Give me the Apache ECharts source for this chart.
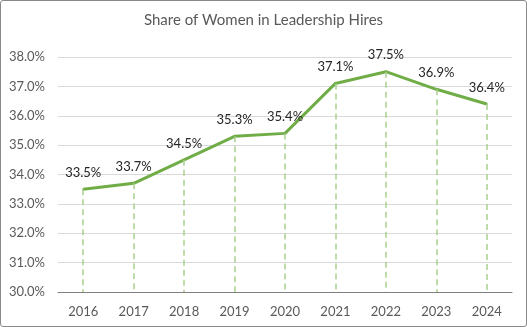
<!DOCTYPE html>
<html><head><meta charset="utf-8">
<script src="https://cdn.jsdelivr.net/npm/echarts@6/dist/echarts.min.js"></script>
<style>
html,body{margin:0;padding:0;background:#fff;}
#wrap{position:absolute;left:0;top:0;width:525px;height:325px;border:1px solid #8a8a8a;border-radius:3px;}
#c{width:525px;height:325px;}
</style></head><body>
<div id="wrap"><div id="c"></div></div>
<script>
const categories = ['2016','2017','2018','2019','2020','2021','2022','2023','2024'];
const shareValues = [33.5, 33.7, 34.5, 35.3, 35.4, 37.1, 37.5, 36.9, 36.4];
const axisMin = 30, axisMax = 38, axisStep = 1;
const titleText = 'Share of Women in Leadership Hires';

const font = 'Lato, "Noto Sans", sans-serif';
const chart = echarts.init(document.getElementById('c'));
chart.setOption({
  animation: false,
  title: { text: titleText, left: 'center', top: 7,
    textStyle: { fontFamily: font, fontSize: 15, fontWeight: 'normal', color: '#595959' } },
  grid: { left: 57, right: 14, top: 56, bottom: 34 },
  xAxis: { type: 'category', data: categories, boundaryGap: true,
    axisLine: { lineStyle: { color: '#7f7f7f', width: 1 } },
    axisTick: { show: false },
    axisLabel: { fontFamily: font, fontSize: 13, color: '#595959', margin: 13 } },
  yAxis: { type: 'value', min: axisMin, max: axisMax, interval: axisStep,
    axisLine: { show: false }, axisTick: { show: false },
    splitLine: { lineStyle: { color: '#d9d9d9', width: 1 } },
    axisLabel: { fontFamily: font, fontSize: 13, color: '#595959', margin: 13,
      formatter: v => v.toFixed(1) + '%' } },
  series: [{
    type: 'line', data: shareValues, symbol: 'circle', symbolSize: 2, showSymbol: true,
    itemStyle: { color: '#70ad47' },
    lineStyle: { color: '#70ad47', width: 3 },
    label: { show: true, position: 'top', distance: 9, fontFamily: font, fontSize: 13, color: '#262626',
      formatter: p => p.value.toFixed(1) + '%' },
    labelLayout: { hideOverlap: false },
    markLine: { silent: true, symbol: 'none', label: { show: false },
      lineStyle: { color: '#a9d18e', type: [6, 4], width: 1.5 },
      data: shareValues.map((v, i) => [{ coord: [i, v] }, { coord: [i, axisMin] }]) }
  }]
});
</script></body></html>
